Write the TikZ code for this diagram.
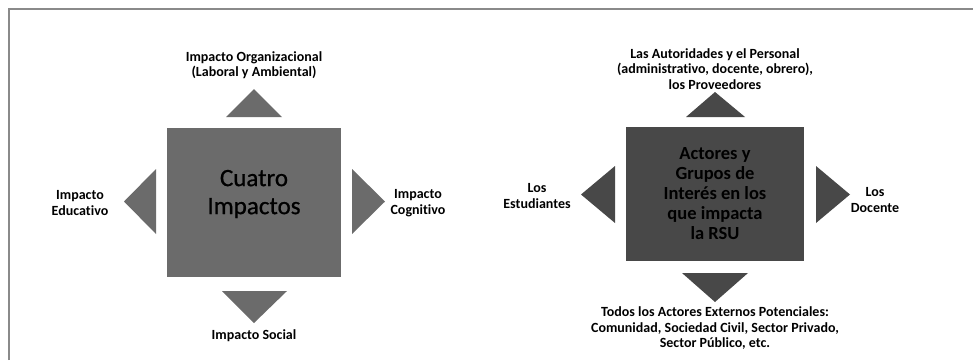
\documentclass[tikz,border=0pt]{standalone}
\usepackage{fontspec}
\setmainfont{Carlito}[Ligatures=CommonOff]
\newfontfamily\semibold{Carlito}[Ligatures=CommonOff,FakeBold=0.8]
\definecolor{midgray}{HTML}{6B6B6B}
\definecolor{darkgray}{HTML}{484848}
\definecolor{framegray}{HTML}{8A8A8A}
\begin{document}
\begin{tikzpicture}[
		x=1pt,y=-1pt,
		caption/.style={align=center,inner sep=0pt,font=\bfseries\fontsize{14}{15.5}\selectfont},
		bigbox/.style={draw=none,inner sep=0pt,minimum width=174pt,minimum height=149pt,fill=midgray},
		actbox/.style={draw=none,inner sep=0pt,minimum width=178pt,minimum height=134pt,fill=darkgray,
			align=center,text=black,font=\bfseries\fontsize{18.5}{20}\selectfont},
		tri/.style={fill=midgray},
		darktri/.style={fill=darkgray}
		]
		\useasboundingbox (0,0) rectangle (973,360);
		% frame
		\draw[framegray,line width=1.5pt] (9,360) -- (9,9) -- (973,9);
		% left: cuatro impactos
		\node[bigbox] (impactos) at (254,202.5) {};
		\node[inner sep=0pt,align=center,text=black,font=\semibold\fontsize{25}{28}\selectfont] (cuatro) at (254,194) {Cuatro\\Impactos};
		\fill[tri] (226,117) -- (254,89) -- (282,117) -- cycle;
		\fill[tri] (222,291) -- (254,323) -- (287,291) -- cycle;
		\fill[tri] (156,169) -- (124,201.5) -- (156,234) -- cycle;
		\fill[tri] (352,169) -- (385,201.5) -- (352,234) -- cycle;
		\node[caption] (organiz) at (254,65) {Impacto Organizacional\\(Laboral y Ambiental)};
		\node[caption] (educ) at (80,203) {Impacto\\Educativo};
		\node[caption] (cognit) at (418,203) {Impacto\\Cognitivo};
		\node[caption] (social) at (254,336) {Impacto Social};
		% right: actores y grupos de interes
		\node[actbox] (actores) at (715,194) {Actores y\\Grupos de\\Interés en los\\que impacta\\la RSU};
		\fill[darktri] (686,117) -- (715,92) -- (745,117) -- cycle;
		\fill[darktri] (682,273) -- (715,302) -- (748,273) -- cycle;
		\fill[darktri] (615,166) -- (581,194.5) -- (615,223) -- cycle;
		\fill[darktri] (816,166) -- (850,194.5) -- (816,223) -- cycle;
		\node[caption] (autorid) at (715,69) {Las Autoridades y el Personal\\(administrativo, docente, obrero),\\los Proveedores};
		\node[caption] (estud) at (537,196) {Los\\Estudiantes};
		\node[caption] (docente) at (875,200) {Los\\Docente};
		\node[caption] (externos) at (715,328.5) {Todos los Actores Externos Potenciales:\\Comunidad, Sociedad Civil, Sector Privado,\\Sector Público, etc.};
\end{tikzpicture}
\end{document}
